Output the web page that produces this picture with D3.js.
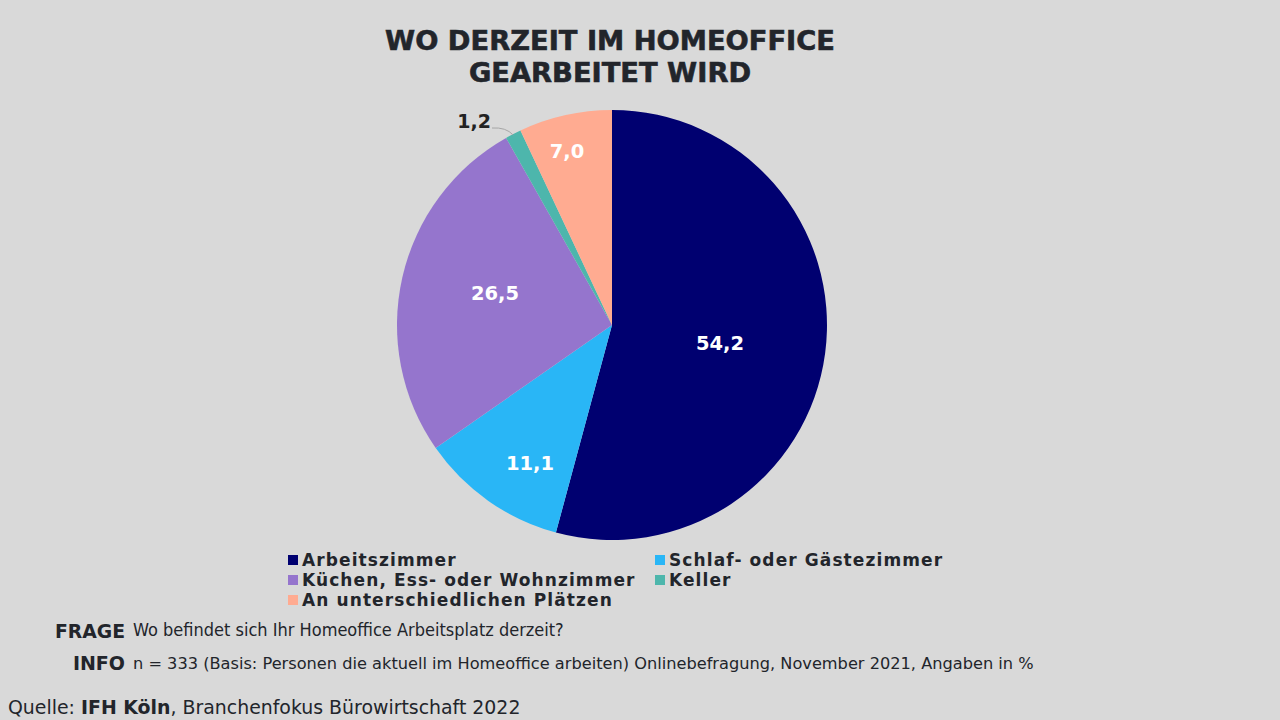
<!DOCTYPE html>
<html><head><meta charset="utf-8">
<script src="https://cdn.jsdelivr.net/npm/d3@7"></script>
<style>body{margin:0;background:#d9d9d9;}svg{display:block;}</style>
</head><body>
<svg id="c" width="1280" height="720"></svg>
<script>
const categories = ["Arbeitszimmer","Schlaf- oder Gästezimmer","Küchen, Ess- oder Wohnzimmer","Keller","An unterschiedlichen Plätzen"];
const values = [54.2, 11.1, 26.5, 1.2, 7.0];
const colors = ["#000070","#29b6f6","#9575cd","#4db6ac","#ffab91"];
const labelColors = ["#ffffff","#ffffff","#ffffff","#222222","#ffffff"];
const titleLines = ["WO DERZEIT IM HOMEOFFICE","GEARBEITET WIRD"];

const svg = d3.select("#c");
svg.append("rect").attr("width",1280).attr("height",720).attr("fill","#d9d9d9");

const title = svg.append("text").attr("text-anchor","middle").attr("fill","#22252b")
  .attr("font-family","DejaVu Sans").attr("font-weight","bold").attr("font-size",27.3)
  .attr("stroke","#22252b").attr("stroke-width",0.6);
titleLines.forEach((t,i)=>title.append("tspan").attr("x",610).attr("y",50+i*32).text(t));

const cx=612, cy=325, r=215;
const g = svg.append("g").attr("transform",`translate(${cx},${cy})`);
const pie = d3.pie().sort(null).value(d=>d.v);
const data = pie(categories.map((c,i)=>({c,v:values[i],i})));
const arc = d3.arc().innerRadius(0).outerRadius(r);
g.selectAll("path").data(data).join("path").attr("d",arc).attr("fill",d=>colors[d.data.i]);

const labelArc = d3.arc().innerRadius(r*0.6).outerRadius(r*0.6);
const fmt = v => d3.format(".1f")(v).replace(".",",");
data.forEach(d=>{
  let [x,y] = labelArc.centroid(d);
  if (d.data.i===3) {
    const a = (d.startAngle+d.endAngle)/2;
    const px = Math.sin(a)*r, py = -Math.cos(a)*r;
    const lx = -120, ly = -197;
    g.append("path").attr("d",`M${lx},${ly} Q${lx+14},${ly-1} ${px},${py+1}`)
      .attr("fill","none").attr("stroke","#a6a6a6").attr("stroke-width",1);
    g.append("text").attr("x",lx-1).attr("y",ly).attr("text-anchor","end")
      .attr("font-family","DejaVu Sans").attr("font-weight","bold").attr("font-size",19)
      .attr("fill",labelColors[3]).text(fmt(d.data.v));
    return;
  }
  if (d.data.i===0) { x=108; y=18; }
  if (d.data.i===1) { x=-82; y=138; }
  if (d.data.i===2) { x=-117; y=-32; }
  if (d.data.i===4) { x=-45; y=-174; }
  g.append("text").attr("x",x).attr("y",y).attr("text-anchor","middle").attr("dy","0.35em")
    .attr("font-family","DejaVu Sans").attr("font-weight","bold").attr("font-size",19.5)
    .attr("fill",labelColors[d.data.i]).text(fmt(d.data.v));
});

// legend
const legPos = [[288,560],[655,560],[288,580],[655,580],[288,600]];
categories.forEach((c,i)=>{
  const [x,y]=legPos[i];
  svg.append("rect").attr("x",x).attr("y",y-5).attr("width",10).attr("height",10).attr("fill",colors[i]);
  svg.append("text").attr("x",x+14).attr("y",y).attr("dy","0.35em")
    .attr("font-family","DejaVu Sans").attr("font-weight","bold").attr("font-size",17)
    .attr("letter-spacing",1.1)
    .attr("fill","#22252b").text(c);
});

// footer
svg.append("text").attr("x",125).attr("y",638).attr("text-anchor","end")
  .attr("font-family","DejaVu Sans").attr("font-weight","bold").attr("font-size",18.8).attr("fill","#22252b").text("FRAGE");
svg.append("text").attr("x",133).attr("y",636)
  .attr("font-family","Liberation Sans Narrow, DejaVu Sans Condensed").attr("font-size",18).attr("fill","#22252b")
  .text("Wo befindet sich Ihr  Homeoffice Arbeitsplatz derzeit?");
svg.append("text").attr("x",125).attr("y",670).attr("text-anchor","end")
  .attr("font-family","DejaVu Sans").attr("font-weight","bold").attr("font-size",19).attr("fill","#22252b").text("INFO");
svg.append("text").attr("x",133).attr("y",669)
  .attr("font-family","DejaVu Sans").attr("font-size",16.2).attr("fill","#22252b")
  .text("n = 333 (Basis: Personen die aktuell im Homeoffice arbeiten) Onlinebefragung, November 2021, Angaben in %");
const q = svg.append("text").attr("x",8).attr("y",714)
  .attr("font-family","DejaVu Sans").attr("font-size",18.9).attr("fill","#22252b");
q.append("tspan").text("Quelle: ");
q.append("tspan").attr("font-weight","bold").text("IFH Köln");
q.append("tspan").text(", Branchenfokus Bürowirtschaft 2022");
</script>
</body></html>
